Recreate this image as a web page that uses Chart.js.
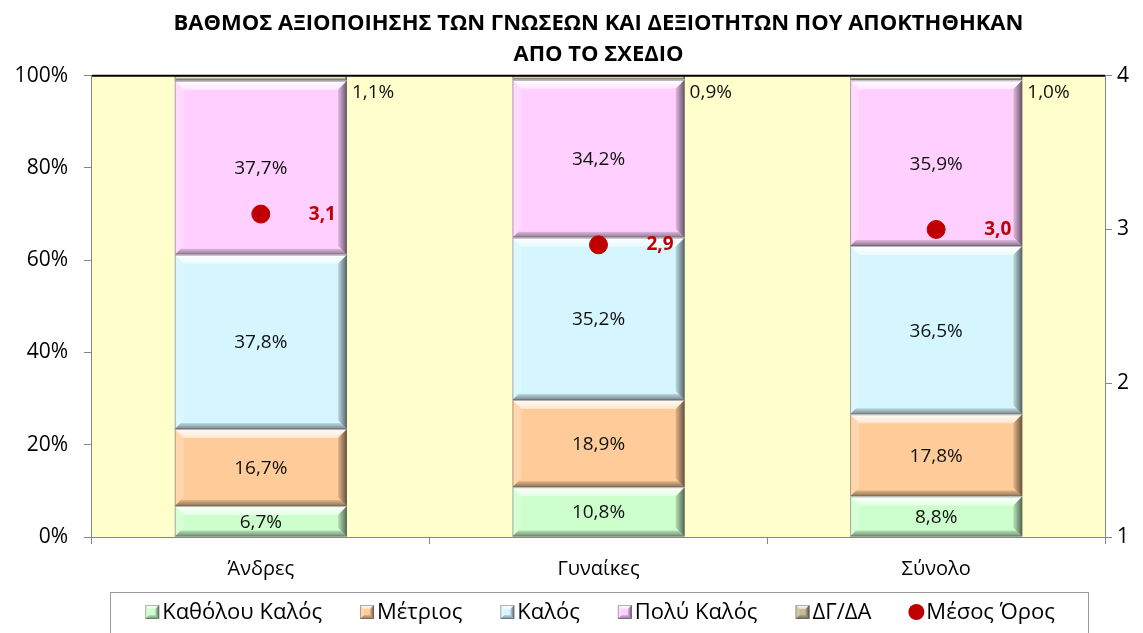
<!DOCTYPE html>
<html>
<head>
<meta charset="utf-8">
<script src="https://cdn.jsdelivr.net/npm/chart.js@4.4.0/dist/chart.umd.min.js"></script>
<style>
  html, body { margin: 0; padding: 0; background: #fff; }
  #wrap { width: 1143px; height: 633px; position: relative; }
</style>
</head>
<body>
<div id="wrap"><canvas id="chartAxiopoiisi"></canvas></div>
<script>
// Δεδομένα (ποσοστά %)
const categories = ['Άνδρες', 'Γυναίκες', 'Σύνολο'];
const kathoulouKalos = [6.7, 10.8, 8.8];
const metrios = [16.7, 18.9, 17.8];
const kalos = [37.8, 35.2, 36.5];
const polyKalos = [37.7, 34.2, 35.9];
const dgda = [1.1, 0.9, 1.0];
const mesosOros = [3.1, 2.9, 3.0];
const leftTicks = [0, 20, 40, 60, 80, 100];
const rightTicks = [1, 2, 3, 4];

const FONT = '"Open Sans", "Noto Sans", sans-serif';

function fmt(v, dec) {
    return v.toFixed(dec).replace('.', ',');
}

// φόντο περιοχής σχεδίασης + μαύρη γραμμή πάνω
const plotBg = {
    id: 'plotBg',
    beforeDatasetsDraw(chart) {
        const { ctx, chartArea: a } = chart;
        ctx.save();
        ctx.fillStyle = '#FFFFCC';
        ctx.fillRect(a.left, a.top, a.right - a.left, a.bottom - a.top);
        ctx.restore();
    },
    afterDatasetsDraw(chart) {
        const { ctx, chartArea: a } = chart;
        ctx.save();
        ctx.strokeStyle = '#000';
        ctx.lineWidth = 2;
        ctx.beginPath();
        ctx.moveTo(a.left, a.top);
        ctx.lineTo(a.right, a.top);
        ctx.stroke();
        ctx.restore();
    }
};

function drawBevel(ctx, x0, x1, top, bot, bmax) {
    const h = bot - top;
    const b = Math.min(bmax, h / 2);
    // πάνω φωτεινή λωρίδα
    let g = ctx.createLinearGradient(0, top, 0, top + b);
    g.addColorStop(0, 'rgba(255,255,255,0.95)');
    g.addColorStop(1, 'rgba(255,255,255,0.5)');
    ctx.fillStyle = g;
    ctx.beginPath();
    ctx.moveTo(x0, top); ctx.lineTo(x1, top); ctx.lineTo(x1 - b, top + b); ctx.lineTo(x0 + b, top + b);
    ctx.closePath(); ctx.fill();
    // αριστερά
    ctx.fillStyle = 'rgba(255,255,255,0.2)';
    ctx.beginPath();
    ctx.moveTo(x0, top); ctx.lineTo(x0 + b, top + b); ctx.lineTo(x0 + b, bot - b); ctx.lineTo(x0, bot);
    ctx.closePath(); ctx.fill();
    // δεξιά σκιά
    g = ctx.createLinearGradient(x1 - b, 0, x1, 0);
    g.addColorStop(0, 'rgba(0,0,0,0.1)');
    g.addColorStop(1, 'rgba(0,0,0,0.6)');
    ctx.fillStyle = g;
    ctx.beginPath();
    ctx.moveTo(x1, top); ctx.lineTo(x1, bot); ctx.lineTo(x1 - b, bot - b); ctx.lineTo(x1 - b, top + b);
    ctx.closePath(); ctx.fill();
    // κάτω σκιά
    const bb = Math.min(b, 6);
    g = ctx.createLinearGradient(0, bot - bb, 0, bot);
    g.addColorStop(0, 'rgba(0,0,0,0.12)');
    g.addColorStop(1, 'rgba(0,0,0,0.45)');
    ctx.fillStyle = g;
    ctx.beginPath();
    ctx.moveTo(x0, bot); ctx.lineTo(x1, bot); ctx.lineTo(x1 - bb, bot - bb); ctx.lineTo(x0 + bb, bot - bb);
    ctx.closePath(); ctx.fill();
    // περίγραμμα
    ctx.strokeStyle = 'rgba(100,100,100,0.5)';
    ctx.lineWidth = 1;
    ctx.strokeRect(x0 + 0.5, top + 0.5, x1 - x0 - 1, h - 1);
}

// ανάγλυφο εφέ στις μπάρες
const bevel = {
    id: 'bevel',
    afterDatasetDraw(chart, args) {
        const meta = args.meta;
        if (meta.type !== 'bar') return;
        const ctx = chart.ctx;
        ctx.save();
        meta.data.forEach(el => {
            drawBevel(ctx, el.x - el.width / 2, el.x + el.width / 2,
                Math.min(el.y, el.base), Math.max(el.y, el.base), 9);
        });
        ctx.restore();
    }
};

// ετικέτες τιμών + υπόμνημα
const valueLabels = {
    id: 'valueLabels',
    afterDraw(chart) {
        const ctx = chart.ctx;
        ctx.save();
        chart.data.datasets.forEach((ds, i) => {
            const meta = chart.getDatasetMeta(i);
            meta.data.forEach((el, j) => {
                const v = ds.data[j];
                ctx.textBaseline = 'middle';
                if (meta.type === 'bar') {
                    ctx.fillStyle = '#111';
                    ctx.font = '19px ' + FONT;
                    if (ds.label === 'ΔΓ/ΔΑ') {
                        ctx.textAlign = 'left';
                        ctx.fillText(fmt(v, 1) + '%', el.x + el.width / 2 + 5, chart.chartArea.top + 17);
                    } else {
                        ctx.textAlign = 'center';
                        ctx.fillText(fmt(v, 1) + '%', el.x, (el.y + el.base) / 2 + 1);
                    }
                } else {
                    ctx.fillStyle = '#C00000';
                    ctx.font = 'bold 19px ' + FONT;
                    ctx.textAlign = 'left';
                    ctx.fillText(fmt(v, 1), el.x + 48, el.y);
                }
            });
        });

        // υπόμνημα
        const legendY = 612, boxTop = 592, legendCenter = 600;
        ctx.font = '22px ' + FONT;
        const items = chart.data.datasets.map(ds => ({
            ds: ds, w: 17 + ctx.measureText(ds.label).width
        }));
        const gap = 38;
        const total = items.reduce((s, it) => s + it.w, 0) + gap * (items.length - 1);
        let x = legendCenter - total / 2;
        ctx.strokeStyle = '#9a9a9a';
        ctx.lineWidth = 1;
        ctx.strokeRect(Math.round(x - 35) + 0.5, boxTop + 0.5, Math.round(total + 68), 60);
        items.forEach(it => {
            const ds = it.ds;
            if (ds.type === 'bar') {
                ctx.fillStyle = ds.backgroundColor;
                ctx.fillRect(x, legendY - 7, 14, 14);
                drawBevel(ctx, x, x + 14, legendY - 7, legendY + 7, 4);
            } else {
                ctx.fillStyle = '#C00000';
                ctx.beginPath();
                ctx.arc(x + 7, legendY, 8, 0, Math.PI * 2);
                ctx.fill();
            }
            ctx.fillStyle = '#000';
            ctx.font = '22px ' + FONT;
            ctx.textAlign = 'left';
            ctx.textBaseline = 'middle';
            ctx.fillText(ds.label, x + 17, legendY + 1);
            x += it.w + gap;
        });
        ctx.restore();
    }
};

const barStyle = (label, data, color) => ({
    type: 'bar',
    label: label,
    data: data,
    backgroundColor: color,
    borderWidth: 0,
    yAxisID: 'y',
    order: 1,
    categoryPercentage: 1.0,
    barPercentage: 0.51
});

const ctx = document.getElementById('chartAxiopoiisi');
new Chart(ctx, {
    data: {
        labels: categories,
        datasets: [
            barStyle('Καθόλου Καλός', kathoulouKalos, '#CCFFCC'),
            barStyle('Μέτριος', metrios, '#FFCC99'),
            barStyle('Καλός', kalos, '#D5F6FF'),
            barStyle('Πολύ Καλός', polyKalos, '#FFD0FF'),
            barStyle('ΔΓ/ΔΑ', dgda, '#C4BC96'),
            {
                type: 'line',
                label: 'Μέσος Όρος',
                data: mesosOros,
                yAxisID: 'y1',
                showLine: false,
                pointRadius: 9,
                pointHoverRadius: 9,
                pointBackgroundColor: '#C00000',
                pointBorderColor: '#C00000',
                backgroundColor: '#C00000',
                borderColor: '#C00000',
                order: 0
            }
        ]
    },
    options: {
        responsive: true,
        maintainAspectRatio: false,
        animation: false,
        layout: { padding: { left: 0, right: 0, top: 0, bottom: 41 } },
        plugins: {
            title: {
                display: true,
                fullSize: false,
                text: ['ΒΑΘΜΟΣ ΑΞΙΟΠΟΙΗΣΗΣ ΤΩΝ ΓΝΩΣΕΩΝ ΚΑΙ ΔΕΞΙΟΤΗΤΩΝ ΠΟΥ ΑΠΟΚΤΗΘΗΚΑΝ', 'ΑΠΟ ΤΟ ΣΧΕΔΙΟ'],
                color: '#000',
                font: { family: FONT, size: 22, weight: 'bold', lineHeight: 1.38 },
                padding: { top: 9, bottom: 6 }
            },
            legend: { display: false },
            tooltip: { enabled: false }
        },
        scales: {
            x: {
                stacked: true,
                grid: { display: true, drawOnChartArea: false, offset: true, color: '#868686', tickLength: 7 },
                border: { color: '#868686', width: 2 },
                ticks: { color: '#000', font: { family: FONT, size: 20 }, padding: 13 },
                afterFit(scale) { scale.height = 55; }
            },
            y: {
                stacked: true,
                min: 0,
                max: 100,
                afterBuildTicks(scale) { scale.ticks = leftTicks.map(v => ({ value: v })); },
                grid: { display: true, drawOnChartArea: false, color: '#868686', tickLength: 8 },
                border: { color: '#868686', width: 2 },
                ticks: {
                    color: '#000',
                    font: { family: FONT, size: 21 },
                    padding: 16,
                    callback: v => v + '%'
                },
                afterFit(scale) { scale.width = 92; }
            },
            y1: {
                position: 'right',
                min: 1,
                max: 4,
                afterBuildTicks(scale) { scale.ticks = rightTicks.map(v => ({ value: v })); },
                grid: { display: true, drawOnChartArea: false, color: '#868686', tickLength: 7 },
                border: { color: '#868686', width: 2 },
                ticks: { color: '#000', font: { family: FONT, size: 21 }, padding: 5 },
                afterFit(scale) { scale.width = 38; }
            }
        }
    },
    plugins: [plotBg, bevel, valueLabels]
});
</script>
</body>
</html>
